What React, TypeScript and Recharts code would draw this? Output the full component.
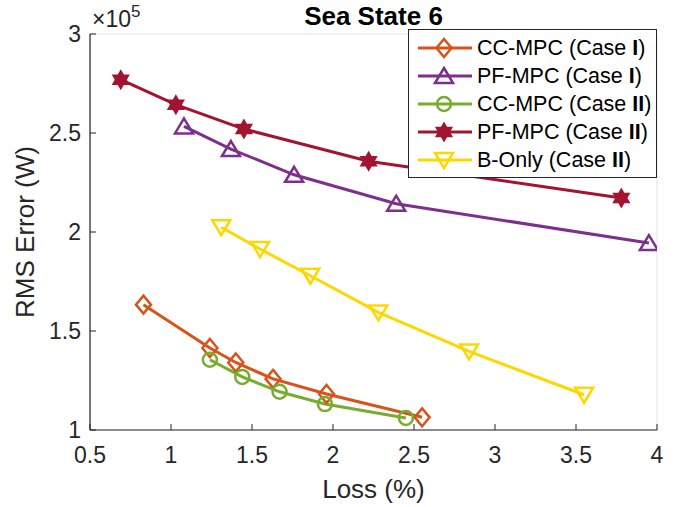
import React from "react";
import { LineChart, Line, XAxis, YAxis, CartesianGrid, Legend, Customized } from "recharts";

const W = 685;
const H = 507;
const Y_AXIS_W = 50;
const X_AXIS_H = 45;
const MARGIN = { top: 34, right: 28, bottom: 32, left: 40 };
const FONT = '"Liberation Sans", Arial, Helvetica, sans-serif';
const AXIS_COLOR = "#262626";
const GRID_COLOR = "#e3e3e3";

// Loss (%) vs RMS error (W)
const CC_MPC_I_LOSS = [0.83, 1.24, 1.4, 1.63, 1.96, 2.55];
const CC_MPC_I_RMS = [163300, 141400, 134100, 125800, 118200, 106400];
const PF_MPC_I_LOSS = [1.08, 1.37, 1.76, 2.39, 3.95];
const PF_MPC_I_RMS = [253300, 241900, 228900, 214300, 194400];
const CC_MPC_II_LOSS = [1.24, 1.44, 1.67, 1.95, 2.45];
const CC_MPC_II_RMS = [135500, 126800, 119300, 113100, 106100];
const PF_MPC_II_LOSS = [0.69, 1.03, 1.45, 2.22, 3.78];
const PF_MPC_II_RMS = [276900, 264300, 252000, 235700, 217200];
const B_ONLY_II_LOSS = [1.31, 1.55, 1.86, 2.28, 2.84, 3.55];
const B_ONLY_II_RMS = [202400, 191400, 177900, 159400, 139700, 117800];

const X_TICKS = [0.5, 1, 1.5, 2, 2.5, 3, 3.5, 4];
const Y_TICKS = [100000, 150000, 200000, 250000, 300000];

const zip = (xs: number[], ys: number[]) => xs.map((x, i) => ({ x, y: ys[i] }));

type Shape = "diamond" | "triangleUp" | "circle" | "hexagram" | "triangleDown";

const SERIES: { name: string; tag: string; color: string; shape: Shape; data: { x: number; y: number }[] }[] = [
  { name: "CC-MPC", tag: "I", color: "#D95319", shape: "diamond", data: zip(CC_MPC_I_LOSS, CC_MPC_I_RMS) },
  { name: "PF-MPC", tag: "I", color: "#7E2F8E", shape: "triangleUp", data: zip(PF_MPC_I_LOSS, PF_MPC_I_RMS) },
  { name: "CC-MPC", tag: "II", color: "#77AC30", shape: "circle", data: zip(CC_MPC_II_LOSS, CC_MPC_II_RMS) },
  { name: "PF-MPC", tag: "II", color: "#A2142F", shape: "hexagram", data: zip(PF_MPC_II_LOSS, PF_MPC_II_RMS) },
  { name: "B-Only", tag: "II", color: "#FFD700", shape: "triangleDown", data: zip(B_ONLY_II_LOSS, B_ONLY_II_RMS) },
];

function hexagramPoints(cx: number, cy: number, R: number) {
  const r = R / Math.sqrt(3);
  const pts: string[] = [];
  for (let i = 0; i < 12; i++) {
    const a = -Math.PI / 2 + (i * Math.PI) / 6;
    const rad = i % 2 === 0 ? R : r;
    pts.push(`${cx + rad * Math.cos(a)},${cy + rad * Math.sin(a)}`);
  }
  return pts.join(" ");
}

function Marker({ shape, cx, cy, color }: { shape: Shape; cx: number; cy: number; color: string }) {
  const common = { stroke: color, strokeWidth: 2.5, fill: "none", strokeLinejoin: "miter" as const };
  if (shape === "diamond")
    return <polygon {...common} points={`${cx},${cy - 9} ${cx + 7.5},${cy} ${cx},${cy + 9} ${cx - 7.5},${cy}`} />;
  if (shape === "triangleUp")
    return <polygon {...common} points={`${cx},${cy - 8} ${cx + 9},${cy + 7} ${cx - 9},${cy + 7}`} />;
  if (shape === "triangleDown")
    return <polygon {...common} points={`${cx - 9},${cy - 7} ${cx + 9},${cy - 7} ${cx},${cy + 8}`} />;
  if (shape === "circle") return <circle {...common} cx={cx} cy={cy} r={7} />;
  return <polygon {...common} fill={color} strokeWidth={2} points={hexagramPoints(cx, cy, 8.5)} />;
}

const fmtX = (v: number) => String(v);
const fmtY = (v: number) => String(v / 100000);

function BottomTick(props: any) {
  const { x, y, payload } = props;
  return (
    <g>
      <line x1={x} x2={x} y1={y} y2={y - 6} stroke={AXIS_COLOR} />
      <text x={x} y={y + 33} textAnchor="middle" fontSize={23} fill={AXIS_COLOR} fontFamily={FONT}>
        {fmtX(payload.value)}
      </text>
    </g>
  );
}

function TopTick(props: any) {
  const { x, y } = props;
  return <line x1={x} x2={x} y1={y} y2={y + 6} stroke={AXIS_COLOR} />;
}

function LeftTick(props: any) {
  const { x, y, payload } = props;
  return (
    <g>
      <line x1={x} x2={x + 6} y1={y} y2={y} stroke={AXIS_COLOR} />
      <text x={x - 9} y={y + 8} textAnchor="end" fontSize={23} fill={AXIS_COLOR} fontFamily={FONT}>
        {fmtY(payload.value)}
      </text>
    </g>
  );
}

function RightTick(props: any) {
  const { x, y } = props;
  return <line x1={x} x2={x - 6} y1={y} y2={y} stroke={AXIS_COLOR} />;
}

const PLOT_LEFT = MARGIN.left + Y_AXIS_W;
const PLOT_RIGHT = W - MARGIN.right;
const PLOT_TOP = MARGIN.top;
const PLOT_BOTTOM = H - MARGIN.bottom - X_AXIS_H;
const PLOT_CX = (PLOT_LEFT + PLOT_RIGHT) / 2;
const PLOT_CY = (PLOT_TOP + PLOT_BOTTOM) / 2;

function Annotations() {
  return (
    <g fontFamily={FONT} fill="#000">
      <text x={PLOT_CX} y={PLOT_TOP - 9} textAnchor="middle" fontSize={26} fontWeight="bold">
        Sea State 6
      </text>
      <text x={PLOT_LEFT + 2} y={PLOT_TOP - 7} fontSize={23} fill={AXIS_COLOR}>
        ×10
        <tspan fontSize={17} dy={-10}>
          5
        </tspan>
      </text>
      <text
        x={34}
        y={PLOT_CY}
        textAnchor="middle"
        fontSize={26}
        fill={AXIS_COLOR}
        transform={`rotate(-90, 34, ${PLOT_CY})`}
      >
        RMS Error (W)
      </text>
      <text x={PLOT_CX} y={PLOT_BOTTOM + 68} textAnchor="middle" fontSize={26} fill={AXIS_COLOR}>
        Loss (%)
      </text>
    </g>
  );
}

function LegendBox() {
  return (
    <div
      style={{
        border: `1px solid ${AXIS_COLOR}`,
        background: "#fff",
        boxSizing: "border-box",
        width: "100%",
        height: "100%",
        paddingTop: 4,
        fontFamily: FONT,
        fontSize: 21.5,
        color: "#000",
      }}
    >
      {SERIES.map((s, i) => (
        <div key={i} style={{ display: "flex", alignItems: "center", height: 28, whiteSpace: "nowrap" }}>
          <svg width={56} height={28} style={{ marginLeft: 8, marginRight: 4, flex: "none" }}>
            <line x1={1} x2={55} y1={14} y2={14} stroke={s.color} strokeWidth={3} />
            <Marker shape={s.shape} cx={27} cy={14} color={s.color} />
          </svg>
          <span>
            {s.name} (Case <b>{s.tag}</b>)
          </span>
        </div>
      ))}
    </div>
  );
}

export default function App() {
  return (
    <div style={{ position: "absolute", left: 0, top: 0, width: W, height: H, background: "#fff" }}>
      <LineChart width={W} height={H} margin={MARGIN}>
        <CartesianGrid stroke={GRID_COLOR} strokeWidth={1} ticks={undefined} />
        <XAxis
          xAxisId="bottom"
          dataKey="x"
          type="number"
          domain={[0.5, 4]}
          ticks={X_TICKS}
          allowDataOverflow
          height={X_AXIS_H}
          tickSize={0}
          tickMargin={0}
          tick={<BottomTick />}
          axisLine={{ stroke: AXIS_COLOR, strokeWidth: 1.2 }}
          interval={0}
        />
        <XAxis
          xAxisId="top"
          orientation="top"
          dataKey="x"
          type="number"
          domain={[0.5, 4]}
          ticks={X_TICKS}
          allowDataOverflow
          height={0}
          tickSize={0}
          tickMargin={0}
          tick={<TopTick />}
          axisLine={{ stroke: AXIS_COLOR, strokeWidth: 1.2 }}
          interval={0}
        />
        <YAxis
          yAxisId="left"
          type="number"
          domain={[100000, 300000]}
          ticks={Y_TICKS}
          allowDataOverflow
          width={Y_AXIS_W}
          tickSize={0}
          tickMargin={0}
          tick={<LeftTick />}
          axisLine={{ stroke: AXIS_COLOR, strokeWidth: 1.2 }}
          interval={0}
        />
        <YAxis
          yAxisId="right"
          orientation="right"
          type="number"
          domain={[100000, 300000]}
          ticks={Y_TICKS}
          allowDataOverflow
          width={0}
          tickSize={0}
          tickMargin={0}
          tick={<RightTick />}
          axisLine={{ stroke: AXIS_COLOR, strokeWidth: 1.2 }}
          interval={0}
        />
        {SERIES.map((s, si) => (
          <Line
            key={si}
            xAxisId="bottom"
            yAxisId="left"
            data={s.data}
            dataKey="y"
            name={`${s.name} (Case ${s.tag})`}
            stroke={s.color}
            strokeWidth={3}
            isAnimationActive={false}
            activeDot={false}
            dot={(p: any) => <Marker key={`${si}-${p.index}`} shape={s.shape} cx={p.cx} cy={p.cy} color={s.color} />}
          />
        ))}
        <Legend
          layout="vertical"
          align="center"
          verticalAlign="middle"
          wrapperStyle={{ left: 408, top: 29, width: 249, height: 149 }}
          content={() => <LegendBox />}
        />
        <Customized component={<Annotations />} />
      </LineChart>
    </div>
  );
}
